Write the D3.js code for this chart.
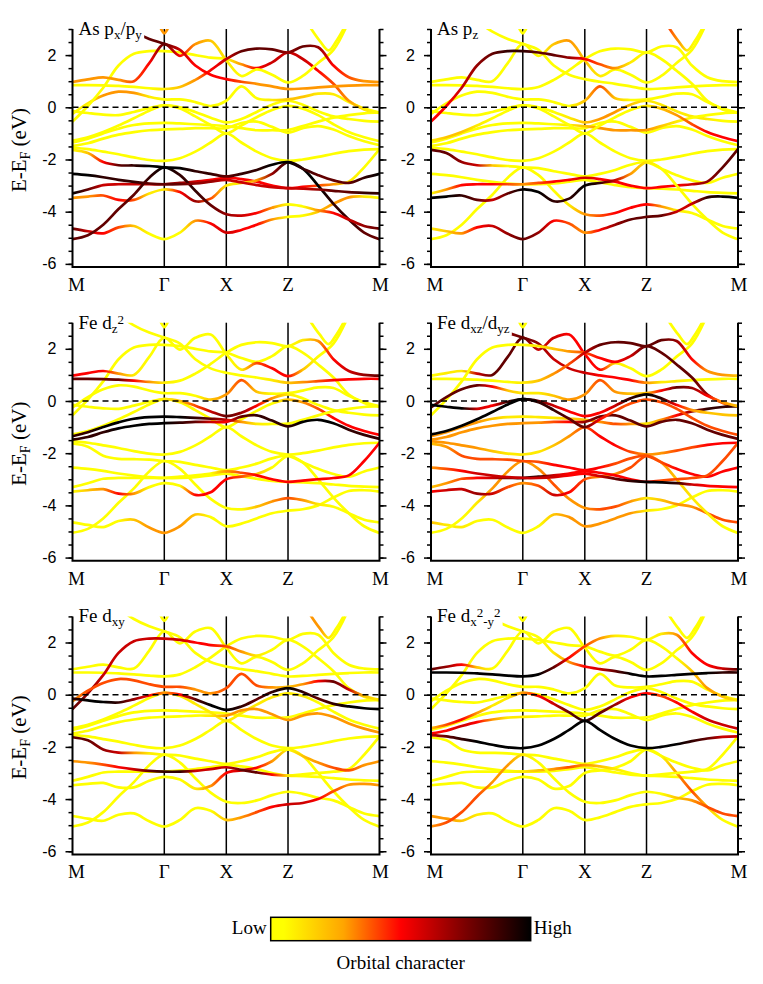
<!DOCTYPE html>
<html>
<head>
<meta charset="utf-8">
<title>Orbital-resolved bands</title>
<script src="https://d3js.org/d3.v7.min.js"></script>
<style>
  body { margin: 0; background: #fff; }
  .tick text { font-family: "Liberation Sans", Arial, sans-serif; font-size: 16px; }
  .serif { font-family: "Liberation Serif", "Times New Roman", serif; }
</style>
</head>
<body>
<div id="chart"></div>
<script>
// k-path positions (fraction of path) and high-symmetry labels
var kGrid = [0, 0.05, 0.10, 0.15, 0.20, 0.25, 0.299, 0.35, 0.40, 0.45, 0.501, 0.55, 0.60, 0.65, 0.702, 0.75, 0.80, 0.85, 0.90, 0.95, 1];
var kTickPos = [0, 0.299, 0.501, 0.702, 1];
var kTickLabels = ["M", "Γ", "X", "Z", "M"];
var yTicks = [-6, -4, -2, 0, 2];

// band energies (eV) on kGrid
var eQ  = [0.85,0.85,0.84,0.82,0.78,0.73,0.70, 0.78,1.05,1.42,1.85, 2.15,2.25,2.22,2.10, 2.33,2.30,1.60,1.15,1.00,0.97];
var eA  = [null,null,null,3.3,2.9,2.62,2.43, 2.2,1.6,1.25,1.08, 0.98,0.9,0.8,0.7, 0.72,0.76,0.8,0.83,0.85,0.85];
var eP  = [0.97,1.07,1.15,1.05,1.0,1.69,2.43, 1.97,2.42,2.55,1.8, 1.2,1.45,1.25,0.95, 1.2,1.7,2.2,3.3,null,null];
var eG  = [-0.55,0.05,0.75,1.6,2.05,2.15,2.15, 2.1,2.0,1.9,1.85, 1.65,1.5,1.72,2.1, 1.85,1.4,0.9,0.25,-0.08,-0.22];
var eS  = [-0.25,0.15,0.45,0.6,0.55,0.4,0.3, 0.3,0.2,0.05,0.25, 0.8,0.35,0.28,0.3, 0.4,0.52,0.5,0.2,-0.05,-0.2];
var eT  = [-0.15,-0.22,-0.28,-0.3,-0.18,-0.03,0.07, 0.0,-0.18,-0.4,-0.58, -0.45,-0.18,0.1,0.25, 0.1,-0.15,-0.35,-0.45,-0.52,-0.55];
var eU  = [-1.28,-1.15,-0.95,-0.7,-0.42,-0.13,0.07, -0.05,-0.35,-0.68,-1.0, -0.7,-0.38,-0.1,0.05, -0.05,-0.3,-0.65,-0.95,-1.15,-1.3];
var eV  = [-1.35,-1.2,-1.0,-0.82,-0.68,-0.62,-0.6, -0.62,-0.65,-0.68,-0.72, -0.8,-0.88,-0.88,-0.87, -0.72,-0.55,-0.4,-0.3,-0.23,-0.2];
var eW  = [-1.48,-1.38,-1.2,-1.05,-0.95,-0.88,-0.85, -0.83,-0.8,-0.8,-0.8, -0.6,-0.55,-0.75,-0.97, -0.8,-0.72,-0.85,-1.1,-1.3,-1.45];
var eY  = [-1.55,-1.6,-1.7,-1.8,-1.92,-2.02,-2.05, -1.95,-1.7,-1.35,-1.0, -1.35,-1.7,-1.95,-2.05, -2.0,-1.9,-1.78,-1.68,-1.62,-1.6];
var eB1 = [-4.65,-4.75,-4.83,-4.6,-4.55,-4.85,-5.05, -4.8,-4.35,-4.45,-4.8, -4.7,-4.5,-4.3,-4.2, -4.15,-4.0,-3.7,-3.45,-3.42,-3.47];
var eB2 = [-5.05,-4.9,-4.5,-3.9,-3.35,-2.7,-2.3, -2.6,-3.2,-3.75,-4.1, -4.15,-4.05,-3.85,-3.72, -3.8,-3.95,-4.05,-4.3,-4.55,-4.65];
var eB3 = [-1.63,-1.75,-2.1,-2.22,-2.23,-2.25,-2.3, -2.33,-2.45,-2.55,-2.65, -2.55,-2.4,-2.2,-2.1, -2.35,-2.6,-2.8,-2.9,-2.7,-2.55];
var eB4 = [-2.55,-2.6,-2.68,-2.78,-2.86,-2.92,-2.95, -2.95,-2.92,-2.85,-2.78, -2.88,-2.98,-3.06,-3.1, -3.12,-3.15,-3.2,-3.25,-3.28,-3.3];
var eB5 = [-3.3,-3.15,-2.98,-2.95,-2.95,-2.95,-2.95, -2.9,-2.85,-2.78,-2.7, -2.75,-2.85,-3.0,-3.1, -3.05,-3.0,-2.95,-2.85,-2.3,-1.6];
var eB6 = [-3.47,-3.42,-3.38,-3.55,-3.55,-3.3,-3.15, -3.25,-3.6,-3.5,-3.0, -2.9,-2.8,-2.55,-2.1, -2.35,-3.0,-3.7,-4.3,-4.8,-5.06];

// two short bands that leave the window at the top
var kVG = [0.283, 0.291, 0.299, 0.307, 0.315];
var eVG = [3.15, 2.95, 2.83, 2.95, 3.15];
var kVZ = [0.775, 0.805, 0.834, 0.86, 0.885];
var eVZ = [3.05, 2.55, 2.18, 2.55, 3.05];

var bandList = [
  {name: "Q", k: kGrid, e: eQ}, {name: "A", k: kGrid, e: eA}, {name: "P", k: kGrid, e: eP},
  {name: "G", k: kGrid, e: eG}, {name: "S", k: kGrid, e: eS}, {name: "T", k: kGrid, e: eT},
  {name: "U", k: kGrid, e: eU}, {name: "V", k: kGrid, e: eV}, {name: "W", k: kGrid, e: eW},
  {name: "Y", k: kGrid, e: eY}, {name: "B1", k: kGrid, e: eB1}, {name: "B2", k: kGrid, e: eB2},
  {name: "B3", k: kGrid, e: eB3}, {name: "B4", k: kGrid, e: eB4}, {name: "B5", k: kGrid, e: eB5},
  {name: "B6", k: kGrid, e: eB6}, {name: "VG", k: kVG, e: eVG}, {name: "VZ", k: kVZ, e: eVZ}
];

// orbital character in tenths (0 = low, 10 = high), bands not listed are 0
var wPxPy = {
  Q:  [0,0,0,0,0,0,1, 2,3,5,6, 8,8,8,7, 8,7,5,4,3,3],
  A:  [0,0,0,7,8,8,8, 6,5,5,5, 4,3,3,3, 3,3,3,3,3,3],
  P:  [3,3,3,3,4,5,8, 5,3,2,1, 0,0,0,0, 0,0,0,0,0,0],
  G:  [0,0,0,0,0,0,0, 0,0,0,0, 3,5,6,6, 6,5,4,3,1,0],
  S:  [0,1,3,3,3,1,0, 0,0,0,0, 0,0,1,2, 2,1,1,0,0,0],
  B1: [8,6,5,4,2,0,0, 0,3,5,6, 5,5,3,0, 0,2,3,3,1,0],
  B2: [8,8,8,8,8,9,10, 9,9,8,7, 6,5,3,0, 0,3,5,6,7,8],
  B3: [0,2,5,8,9,10,10, 10,9,9,8, 9,9,10,10, 9,8,8,8,9,10],
  B4: [10,10,9,9,9,8,8, 8,7,7,6, 6,6,6,6, 6,7,8,8,9,9],
  B5: [10,8,6,6,6,6,7, 7,6,5,5, 5,5,5,5, 5,4,3,1,0,0],
  B6: [3,3,4,5,4,1,1, 5,7,4,1, 1,3,7,9, 10,10,9,9,8,8],
  VG: [3,3,3,3,3]
};
var wPz = {
  G:  [5,5,6,7,8,9,9, 8,8,7,5, 4,3,1,0, 0,0,0,0,0,0],
  P:  [0,0,0,0,0,0,0, 0,2,3,2, 1,0,0,0, 0,0,0,0,0,0],
  S:  [0,0,0,0,0,0,0, 0,0,0,2, 4,2,0,0, 0,0,0,0,0,0],
  T:  [0,0,0,0,0,0,0, 0,0,1,2, 3,3,2,1, 1,1,1,1,0,0],
  U:  [1,2,2,1,0,0,0, 0,0,0,0, 0,0,0,1, 2,3,4,5,5,5],
  V:  [0,0,0,0,0,0,0, 0,0,1,2, 3,3,3,3, 2,1,0,0,0,0],
  B1: [1,2,3,5,6,7,8, 7,5,4,3, 5,7,8,8, 8,6,6,9,10,10],
  B2: [0,0,0,0,0,0,0, 0,0,1,3, 4,5,5,5, 3,1,0,0,0,0],
  B3: [8,8,7,6,2,0,0, 0,0,0,0, 0,0,0,0, 0,0,0,0,0,0],
  B5: [0,3,5,5,5,4,3, 4,5,5,6, 5,5,5,5, 5,5,6,7,8,8],
  B6: [10,10,9,8,6,8,10, 10,9,9,10, 9,6,3,1, 0,0,0,0,0,0],
  VZ: [4,3,1,0,0]
};
var wDz2 = {
  Q:  [8,8,8,8,5,3,1, 0,0,0,0, 0,0,0,0, 1,3,5,6,7,8],
  P:  [5,5,5,3,1,0,0, 0,0,0,0, 1,4,5,5, 2,0,0,0,0,0],
  A:  [0,0,0,0,0,0,0, 0,0,0,0, 0,0,1,2, 3,4,5,5,5,5],
  S:  [0,0,0,0,0,0,0, 0,0,2,3, 4,2,0,0, 0,0,0,0,0,0],
  T:  [0,0,0,0,0,0,1, 2,4,6,8, 7,5,3,1, 0,0,0,0,0,0],
  U:  [0,0,0,0,0,0,0, 0,0,0,0, 0,0,0,2, 3,4,5,5,5,5],
  V:  [9,9,10,10,10,10,10, 10,9,8,6, 3,1,0,0, 0,0,0,0,0,0],
  W:  [9,9,9,10,10,10,10, 9,8,6,5, 8,9,9,9, 10,10,10,9,9,9],
  B1: [0,0,0,0,2,3,3, 3,2,0,0, 0,0,0,0, 0,0,0,0,0,0],
  B2: [0,0,0,0,0,0,0, 0,0,0,0, 0,2,3,4, 3,1,0,0,0,0],
  B5: [0,0,0,0,0,0,0, 0,0,0,3, 4,5,5,5, 5,5,5,5,5,5],
  B6: [0,2,3,5,3,0,0, 0,5,5,5, 4,2,0,0, 0,0,0,0,0,0]
};
var wDxz = {
  P:  [0,1,1,6,8,8,8, 6,6,5,5, 5,1,0,0, 0,0,0,0,0,0],
  A:  [0,0,0,5,6,7,8, 7,6,6,6, 5,5,5,3, 1,1,0,0,0,0],
  Q:  [0,0,0,0,0,0,1, 2,3,4,6, 8,8,8,8, 8,7,5,3,3,2],
  G:  [0,0,0,0,0,0,0, 1,2,3,4, 5,5,6,8, 8,8,8,7,4,3],
  S:  [8,8,8,8,5,2,1, 1,2,3,3, 4,3,2,2, 5,8,7,5,3,2],
  T:  [10,10,10,6,5,9,10, 8,6,5,5, 5,6,9,10, 9,5,3,2,2,2],
  U:  [10,10,10,10,10,10,10, 9,9,8,8, 5,4,4,4, 4,4,4,4,4,4],
  V:  [3,3,3,3,2,1,1, 1,1,2,2, 3,4,3,1, 3,5,7,9,9,9],
  W:  [3,3,3,3,3,3,3, 3,4,5,7, 8,8,8,8, 8,8,8,8,8,8],
  Y:  [3,3,3,3,2,1,1, 1,2,3,4, 5,5,4,3, 3,4,4,5,5,5],
  B1: [2,1,1,0,0,0,0, 0,2,3,3, 3,3,3,1, 0,0,0,0,0,0],
  B2: [0,0,0,1,3,3,3, 3,4,3,3, 4,4,3,1, 2,3,3,4,4,4],
  B3: [2,3,4,4,4,4,4, 4,5,5,5, 5,4,4,4, 4,5,5,5,5,5],
  B4: [3,4,5,6,6,6,6, 6,6,5,5, 6,8,9,10, 10,9,6,5,5,5],
  B5: [2,3,4,5,6,8,10, 9,6,5,5, 5,5,5,5, 4,4,4,4,4,4],
  B6: [5,6,6,7,6,4,3, 4,6,5,4, 3,3,4,4, 3,2,1,1,0,0]
};
var wDxy = {
  G:  [8,7,6,6,6,6,6, 6,5,5,4, 3,1,0,0, 0,0,0,0,0,0],
  S:  [3,4,4,4,4,4,4, 4,3,3,4, 4,4,3,2, 3,5,8,6,2,1],
  T:  [9,10,10,9,7,5,3, 5,8,10,10, 9,8,9,10, 9,8,9,10,10,10],
  U:  [0,0,0,0,0,0,1, 1,1,1,1, 1,1,1,1, 1,0,0,0,0,0],
  W:  [0,0,0,0,0,0,0, 0,0,1,3, 3,3,3,3, 3,3,3,3,3,3],
  B1: [0,0,0,0,0,0,0, 0,0,0,2, 3,4,5,6, 6,5,4,3,3,3],
  B3: [8,8,7,6,3,1,0, 0,0,0,0, 0,0,0,0, 2,3,4,4,3,3],
  B4: [3,3,4,5,6,8,9, 9,6,6,6, 8,8,5,1, 0,0,0,0,0,0],
  B6: [0,0,0,0,0,0,0, 0,1,3,5, 6,5,3,1, 0,0,0,0,0,0],
  VZ: [3,3,1,0,0]
};
var wDx2y2 = {
  Q:  [10,10,10,10,10,10,10, 10,8,5,4, 3,1,0,0, 1,3,5,5,6,8],
  P:  [8,7,5,2,0,0,0, 0,0,0,0, 0,0,0,0, 0,0,0,0,0,0],
  A:  [0,0,0,0,0,0,0, 0,1,3,5, 6,8,10,10, 10,10,10,10,9,9],
  G:  [0,0,0,0,0,0,0, 0,0,0,0, 0,0,0,0, 0,0,2,3,2,1],
  U:  [2,4,5,3,1,1,3, 5,6,8,9, 8,7,5,5, 4,5,5,6,6,6],
  W:  [5,5,6,5,3,1,1, 0,0,0,0, 0,0,0,0, 0,0,0,0,0,0],
  Y:  [6,8,9,10,10,10,10, 10,10,10,10, 10,10,10,10, 10,10,9,8,6,6],
  B1: [3,3,2,1,0,0,0, 0,0,0,0, 0,0,0,0, 0,0,0,0,0,0],
  B2: [3,4,4,4,3,3,1, 0,0,0,0, 0,0,0,0, 0,2,3,4,4,4],
  B5: [0,0,0,0,0,0,1, 2,3,4,3, 2,1,0,0, 0,0,0,0,0,0],
  B6: [0,0,0,0,0,0,0, 0,0,0,0, 0,0,0,0, 0,3,4,2,0,0]
};

// panel titles: [text, shift] with 0 normal, -1 subscript, 1 superscript
var panels = [
  {title: [["As p", 0], ["x", -1], ["/p", 0], ["y", -1]], w: wPxPy},
  {title: [["As p", 0], ["z", -1]], w: wPz},
  {title: [["Fe d", 0], ["z", -1], ["2", 1]], w: wDz2},
  {title: [["Fe d", 0], ["xz", -1], ["/d", 0], ["yz", -1]], w: wDxz},
  {title: [["Fe d", 0], ["xy", -1]], w: wDxy},
  {title: [["Fe d", 0], ["x", -1], ["2", 1], ["-y", -1], ["2", 1]], w: wDx2y2}
];

var colorStops = [0, 0.05, 0.28, 0.5, 0.75, 1];
var colorRange = ["#ffff00", "#ffff00", "#ffa500", "#ff0000", "#7a0000", "#000000"];
var color = d3.scaleLinear().domain(colorStops).range(colorRange);

var W = 763, H = 984;
var plotW = 307, plotH = 238;
var colX = [72.5, 431];
var rowY = [29, 322.7, 616.4];

var svg = d3.select("#chart").append("svg").attr("width", W).attr("height", H);
var defs = svg.append("defs");

var x = d3.scaleLinear().domain([0, 1]).range([0, plotW]);
var y = d3.scaleLinear().domain([-6.12, 3]).range([plotH, 0]);

var line = d3.line()
    .defined(function(d) { return d[1] != null; })
    .x(function(d) { return x(d[0]); })
    .y(function(d) { return y(d[1]); })
    .curve(d3.curveCatmullRom.alpha(0.5));

function addTitle(g, parts, tx, ty, big, small) {
  var t = g.append("text").attr("class", "serif").attr("x", tx).attr("y", ty).style("font-size", big + "px");
  var cur = 0;
  parts.forEach(function(p) {
    var target = p[1] === -1 ? 4 : (p[1] === 1 ? -5 : 0);
    t.append("tspan").attr("dy", target - cur).style("font-size", (p[1] === 0 ? big : small) + "px").text(p[0]);
    cur = target;
  });
  return t;
}

var minor = d3.range(-6, 3.01, 0.5);

panels.forEach(function(pn, i) {
  var col = i % 2, row = Math.floor(i / 2);
  var g = svg.append("g").attr("transform", "translate(" + colX[col] + "," + rowY[row] + ")");

  defs.append("clipPath").attr("id", "clip" + i)
    .append("rect").attr("x", 0).attr("y", 0).attr("width", plotW).attr("height", plotH);

  // high-symmetry verticals
  g.selectAll(".kline").data(kTickPos.slice(1, 4)).enter().append("line")
    .attr("x1", function(d) { return x(d); }).attr("x2", function(d) { return x(d); })
    .attr("y1", 0).attr("y2", plotH)
    .attr("stroke", "#000").attr("stroke-width", 1.5);

  // bands, drawn low-character first
  var order = bandList.map(function(b) {
    var ws = pn.w[b.name] || b.k.map(function() { return 0; });
    return {b: b, ws: ws, mean: d3.mean(ws)};
  }).sort(function(a, c) { return a.mean - c.mean; });

  var bg = g.append("g").attr("clip-path", "url(#clip" + i + ")");
  order.forEach(function(o) {
    var id = "gr" + i + "_" + o.b.name;
    var grad = defs.append("linearGradient").attr("id", id)
      .attr("gradientUnits", "userSpaceOnUse")
      .attr("x1", x(o.b.k[0])).attr("x2", x(o.b.k[o.b.k.length - 1]))
      .attr("y1", 0).attr("y2", 0);
    var k0 = o.b.k[0], k1 = o.b.k[o.b.k.length - 1];
    o.b.k.forEach(function(k, j) {
      grad.append("stop").attr("offset", (k - k0) / (k1 - k0))
        .attr("stop-color", color(o.ws[j] / 10));
    });
    var pts = o.b.k.map(function(k, j) { return [k, o.b.e[j]]; });
    bg.append("path").attr("d", line(pts))
      .attr("fill", "none").attr("stroke", "url(#" + id + ")")
      .attr("stroke-width", 2.7).attr("stroke-linecap", "round");
  });

  // Fermi level
  g.append("line").attr("x1", 0).attr("x2", plotW).attr("y1", y(0)).attr("y2", y(0))
    .attr("stroke", "#000").attr("stroke-width", 1.6).attr("stroke-dasharray", "6,4");

  // axes
  g.append("g").call(d3.axisLeft(y).tickValues(minor).tickSize(4).tickSizeOuter(0).tickFormat(""))
    .call(function(s) { s.select(".domain").remove(); }).selectAll("line").attr("stroke-width", 1.5);
  g.append("g").call(d3.axisLeft(y).tickValues(yTicks).tickSize(7).tickSizeOuter(0).tickPadding(9)
      .tickFormat(function(d) { return String(d); }))
    .call(function(s) { s.select(".domain").remove(); }).selectAll("line").attr("stroke-width", 1.5);
  var ra = g.append("g").attr("transform", "translate(" + plotW + ",0)");
  ra.append("g").call(d3.axisRight(y).tickValues(minor).tickSize(4).tickSizeOuter(0).tickFormat(""))
    .call(function(s) { s.select(".domain").remove(); }).selectAll("line").attr("stroke-width", 1.5);
  ra.append("g").call(d3.axisRight(y).tickValues(yTicks).tickSize(7).tickSizeOuter(0).tickFormat(""))
    .call(function(s) { s.select(".domain").remove(); }).selectAll("line").attr("stroke-width", 1.5);
  g.selectAll(".tick text").attr("fill", "#000");

  g.append("path").attr("d", "M0,0V" + plotH + "H" + plotW + "V0")
    .attr("fill", "none").attr("stroke", "#000").attr("stroke-width", 2);

  // k labels
  g.selectAll(".klab").data(kTickLabels).enter().append("text")
    .attr("class", "serif")
    .attr("x", function(d, j) { return x(kTickPos[j]) + (j === 0 ? 4 : (j === 4 ? 1 : 0)); })
    .attr("y", plotH + 24)
    .attr("text-anchor", "middle").style("font-size", "19px")
    .text(function(d) { return d; });

  // title on a white box
  var t = addTitle(g, pn.title, 6, 6, 19, 13);
  var bb = t.node().getBBox();
  g.insert("rect", function() { return t.node(); })
    .attr("x", bb.x - 2).attr("y", bb.y).attr("width", bb.width + 4).attr("height", bb.height)
    .attr("fill", "#fff");

  // y-axis title (left column only)
  if (col === 0) {
    var yt = g.append("text").attr("class", "serif")
      .attr("transform", "translate(-47," + (plotH / 2 + 2) + ") rotate(-90)")
      .attr("text-anchor", "middle").style("font-size", "21px");
    yt.append("tspan").text("E-E");
    yt.append("tspan").attr("dy", 4).style("font-size", "14px").text("F");
    yt.append("tspan").attr("dy", -4).text(" (eV)");
  }
});

// colour bar
var cbX = 270.7, cbY = 917.3, cbW = 260, cbH = 23.4;
var cg = defs.append("linearGradient").attr("id", "cbar")
  .attr("x1", 0).attr("x2", 1).attr("y1", 0).attr("y2", 0);
colorStops.forEach(function(s, j) {
  cg.append("stop").attr("offset", s).attr("stop-color", colorRange[j]);
});
svg.append("rect").attr("x", cbX).attr("y", cbY).attr("width", cbW).attr("height", cbH)
  .attr("fill", "url(#cbar)").attr("stroke", "#000").attr("stroke-width", 1.5);
svg.append("text").attr("class", "serif").attr("x", cbX - 4).attr("y", cbY + 17)
  .attr("text-anchor", "end").style("font-size", "19px").text("Low");
svg.append("text").attr("class", "serif").attr("x", cbX + cbW + 3).attr("y", cbY + 17)
  .style("font-size", "19px").text("High");
svg.append("text").attr("class", "serif").attr("x", cbX + cbW / 2).attr("y", 969)
  .attr("text-anchor", "middle").style("font-size", "19px").text("Orbital character");
</script>
</body>
</html>
